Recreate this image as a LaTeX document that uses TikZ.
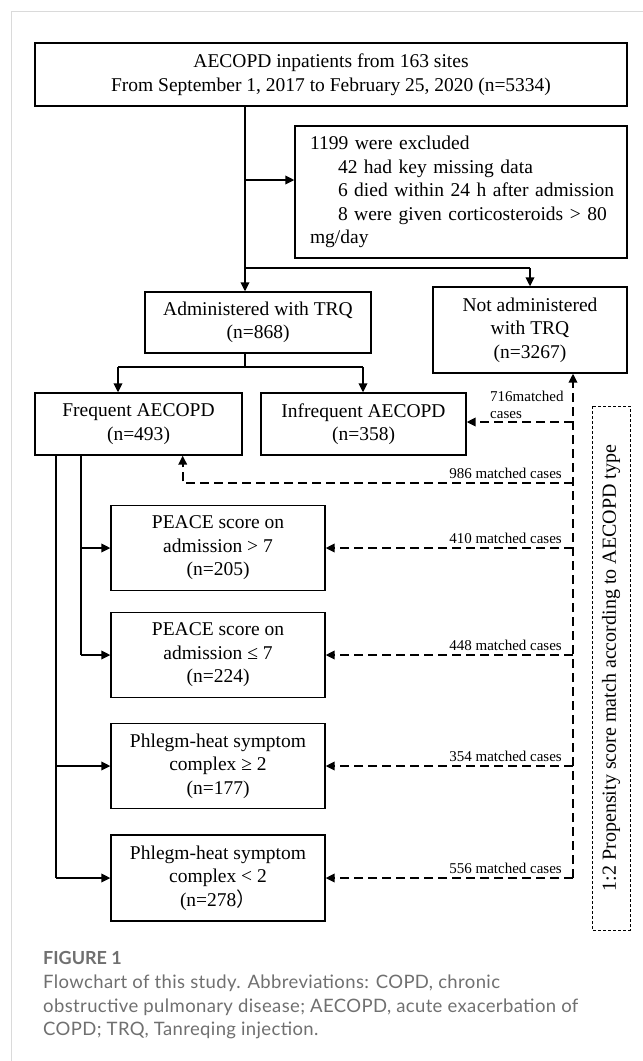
\documentclass[tikz,border=0pt]{standalone}
\usepackage{fontspec}
\setmainfont{Liberation Serif}
\newfontfamily\capfont{Lato}[LetterSpace=2.0]
\newfontfamily\capboldfont{Lato Bold}
\newfontfamily\cjkfont{Noto Sans CJK SC}
\usetikzlibrary{arrows.meta}
\definecolor{framegray}{RGB}{218,218,218}
\definecolor{capgray}{RGB}{112,112,112}
\newcommand\mainsz{\fontsize{19.5bp}{23.5bp}\selectfont}
\newcommand\labsz{\fontsize{15bp}{17bp}\selectfont}
\newcommand\capsz{\fontsize{18.5bp}{23.5bp}\selectfont}
\begin{document}
\begin{tikzpicture}[x=1bp,y=-1bp,
  box/.style={draw, line width=1.3bp, inner sep=0pt, align=center, font=\mainsz},
  plainln/.style={line width=1.8bp},
  thinln/.style={line width=1.1bp},
  conn/.style={line width=1.8bp, -{Triangle[length=9bp,width=8.5bp]}},
  dconn/.style={line width=1.9bp, dash pattern=on 9bp off 5bp, -{Triangle[length=9bp,width=8.5bp]}},
  lab/.style={inner sep=0pt, font=\labsz},
  capt/.style={inner sep=0pt, anchor=base west, text=capgray, font=\capfont\capsz}]
\useasboundingbox (0,0) rectangle (643,1061);
\fill[white] (0,0) rectangle (643,1061);
\draw[framegray, line width=1.5bp] (11.7,1061) -- (11.7,11.7) -- (643,11.7);

% boxes
\node[box, minimum width=592bp, minimum height=63bp] (top) at (331,74.5)
  {AECOPD inpatients from 163 sites\\From September 1, 2017 to February 25, 2020 (n=5334)};
\node[box, align=left, text width=302bp, inner xsep=15bp, minimum height=132bp] (excl) at (461,192)
  {\mbox{1199 were excluded}\\
   \mbox{\hspace*{28bp}42 had key missing data}\\
   \mbox{\hspace*{28bp}6 died within 24 h after admission}\\
   \mbox{\hspace*{28bp}8 were given corticosteroids > 80}\\
   \mbox{mg/day}};
\node[box, minimum width=226bp, minimum height=61bp] (adm) at (258,322.5)
  {Administered with TRQ\\(n=868)};
\node[box, minimum width=194bp, minimum height=86bp] (notadm) at (530,330)
  {Not administered\\with TRQ\\(n=3267)};
\node[box, minimum width=207bp, minimum height=62bp] (freq) at (138.5,424)
  {Frequent AECOPD\\(n=493)};
\node[box, minimum width=205bp, minimum height=62bp] (infreq) at (363.5,424)
  {Infrequent AECOPD\\(n=358)};
\node[box, minimum width=214bp, minimum height=85bp] (peace1) at (218,548)
  {PEACE score on\\admission > 7\\(n=205)};
\node[box, minimum width=214bp, minimum height=85bp] (peace2) at (218,655)
  {PEACE score on\\admission ≤ 7\\(n=224)};
\node[box, minimum width=214bp, minimum height=85bp] (phl1) at (218,766)
  {Phlegm-heat symptom\\complex ≥ 2\\(n=177)};
\node[box, minimum width=214bp, minimum height=86bp] (phl2) at (218,878)
  {Phlegm-heat symptom\\complex < 2\\(n=278{\cjkfont ）}};
\node[draw, line width=0.8bp, dash pattern=on 3bp off 2bp, rotate=90, inner sep=0pt,
  minimum width=524bp, minimum height=38bp, font=\fontsize{20bp}{24bp}\selectfont] (psm) at (611,668)
  {1:2 Propensity score match according to AECOPD type};

% junction coordinates
\coordinate (j1) at (245,180);
\coordinate (j2) at (245,268);
\coordinate (jt) at (245,253);
\coordinate (j3) at (245,367);
\coordinate (j4) at (118,367);
\coordinate (j5) at (363,367);
\coordinate (b1) at (80.7,455);
\coordinate (b2) at (55.7,455);
\coordinate (d0) at (573,422);
\coordinate (c986) at (573,483);
\coordinate (fa) at (182.7,483);

% solid connectors
\draw[thinln] (top.south -| j1) -- (jt);
\draw[plainln] (jt) -- (j2);
\draw[conn] (j1) -- (excl.west |- j1);
\draw[conn] (j2) -- (adm.north -| j2);
\draw[thinln] (j2) -- (j2 -| notadm.north);
\draw[conn] (j2 -| notadm.north) -- (notadm.north);
\draw[thinln] (adm.south -| j3) -- (j3);
\draw[thinln] (j4) -- (j5);
\draw[conn] (j4) -- (freq.north -| j4);
\draw[conn] (j5) -- (infreq.north -| j5);
\draw[plainln] (freq.south -| b1) -- (b1 |- peace2.west);
\draw[conn] (b1 |- peace1.west) -- (peace1.west);
\draw[conn] (b1 |- peace2.west) -- (peace2.west);
\draw[plainln] (freq.south -| b2) -- (b2 |- phl2.west);
\draw[conn] (b2 |- phl1.west) -- (phl1.west);
\draw[conn] (b2 |- phl2.west) -- (phl2.west);

% dashed connectors
\draw[dconn] (d0 |- phl2.east) -- (notadm.south -| d0);
\draw[dconn] (d0) -- (d0 -| infreq.east);
\draw[dconn] (c986) -- (fa) -- (freq.south -| fa);
\draw[dconn] (d0 |- peace1.east) -- (peace1.east);
\draw[dconn] (d0 |- peace2.east) -- (peace2.east);
\draw[dconn] (d0 |- phl1.east) -- (phl1.east);
\draw[dconn] (d0 |- phl2.east) -- (phl2.east);

% labels
\node[lab, anchor=base west] (l716a) at (490,401) {716matched};
\node[lab, anchor=base west] (l716b) at (490,418) {cases};
\node[lab, anchor=base east] (l986) at (562,478) {986 matched cases};
\node[lab, anchor=base east] (l410) at (562,543) {410 matched cases};
\node[lab, anchor=base east] (l448) at (562,650) {448 matched cases};
\node[lab, anchor=base east] (l354) at (562,761) {354 matched cases};
\node[lab, anchor=base east] (l556) at (562,873) {556 matched cases};

% caption
\node[capt, font=\capboldfont\fontsize{18bp}{23.5bp}\selectfont] (fig) at (43,964) {FIGURE 1};
\node[capt] (cap1) at (43,988) {Flowchart of this study. Abbreviations: COPD, chronic};
\node[capt] (cap2) at (43,1012) {obstructive pulmonary disease; AECOPD, acute exacerbation of};
\node[capt] (cap3) at (43,1035) {COPD; TRQ, Tanreqing injection.};
\end{tikzpicture}
\end{document}
